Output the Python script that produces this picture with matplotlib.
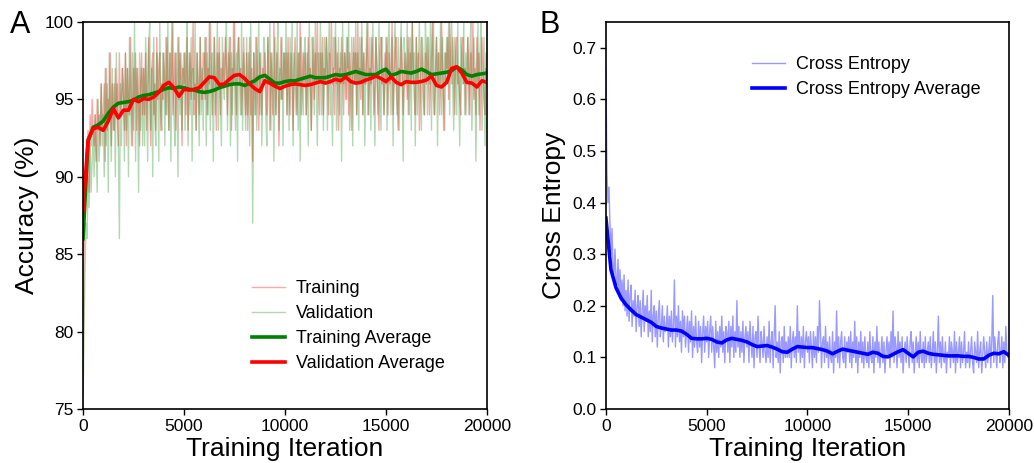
import matplotlib
matplotlib.use("Agg")
import matplotlib.pyplot as plt

plt.rcParams['font.family'] = ['Liberation Sans', 'DejaVu Sans']

# ---- data -------------------------------------------------------------
# noisy traces, one value every 50 iterations (0 .. 20000)
noisy_iters = list(range(0, 20001, 50))

train_acc = [
    76, 85, 88, 90, 91, 93, 89, 94, 92, 95, 93, 92, 94, 91, 95, 93, 94, 92, 96, 93,
    94, 96, 91, 97, 93, 95, 94, 98, 92, 96, 94, 93, 97, 94, 96, 92, 98, 94, 95, 97,
    95, 93, 98, 92, 97, 95, 94, 99, 95, 92, 97, 95, 98, 93, 97, 95, 92, 96, 98, 94,
    97, 94, 98, 93, 96, 99, 95, 92, 97, 98, 94, 96, 93, 99, 95, 97, 98, 93, 96, 95,
    98, 96, 94, 99, 96, 93, 98, 96, 100, 94, 96, 98, 93, 96, 99, 95, 98, 96, 92, 97,
    96, 98, 94, 99, 93, 96, 98, 95, 97, 100, 94, 96, 93, 98, 96, 94, 99, 96, 95, 98,
    98, 95, 99, 94, 97, 96, 100, 97, 94, 96, 99, 96, 93, 98, 96, 99, 94, 97, 96, 98,
    96, 99, 97, 94, 98, 96, 99, 93, 97, 96, 100, 96, 94, 98, 99, 96, 97, 94, 96, 99,
    96, 94, 98, 93, 96, 99, 94, 97, 91, 98, 96, 94, 99, 96, 93, 98, 96, 94, 97, 96,
    98, 96, 94, 99, 96, 93, 98, 96, 94, 100, 96, 94, 98, 96, 92, 97, 99, 95, 96, 98,
    96, 98, 94, 99, 96, 94, 98, 96, 93, 97, 99, 96, 94, 98, 96, 100, 94, 96, 98, 96,
    98, 94, 96, 99, 96, 97, 93, 96, 99, 95, 98, 96, 100, 96, 94, 98, 96, 99, 94, 97,
    96, 99, 97, 94, 98, 96, 100, 96, 97, 94, 99, 96, 98, 93, 97, 96, 99, 97, 94, 98,
    97, 95, 99, 94, 98, 96, 93, 97, 99, 96, 98, 94, 100, 96, 97, 95, 99, 94, 98, 96,
    96, 98, 100, 94, 97, 96, 99, 97, 94, 96, 99, 97, 95, 93, 98, 99, 96, 97, 94, 98,
    96, 99, 94, 98, 96, 97, 100, 94, 96, 98, 99, 95, 93, 97, 96, 99, 97, 94, 96, 98,
    97, 95, 99, 94, 98, 96, 100, 97, 95, 94, 99, 96, 98, 93, 96, 99, 97, 95, 94, 98,
    96, 99, 97, 94, 96, 98, 100, 95, 94, 97, 99, 96, 98, 94, 96, 100, 97, 95, 93, 98,
    97, 99, 95, 100, 97, 96, 99, 97, 94, 98, 99, 96, 97, 95, 94, 98, 99, 96, 97, 94,
    96, 99, 97, 94, 98, 96, 100, 95, 97, 94, 99, 96, 98, 93, 96, 99, 97, 95, 94, 98,
    96,
]

val_acc = [
    75, 80, 84, 87, 86, 90, 88, 92, 89, 91, 93, 90, 94, 92, 89, 95, 91, 93, 96, 92,
    94, 90, 97, 92, 96, 89, 98, 94, 91, 97, 93, 96, 90, 98, 94, 92, 86, 96, 92, 97,
    96, 91, 98, 93, 97, 90, 99, 95, 92, 98, 93, 100, 91, 97, 95, 89, 98, 93, 97, 92,
    97, 92, 99, 95, 91, 98, 100, 93, 97, 90, 99, 94, 92, 98, 96, 91, 100, 94, 93, 98,
    97, 92, 99, 94, 100, 93, 98, 91, 97, 100, 94, 92, 98, 96, 90, 99, 94, 98, 93, 97,
    98, 93, 97, 100, 92, 98, 94, 99, 91, 97, 95, 100, 93, 98, 96, 92, 99, 94, 97, 93,
    97, 99, 92, 98, 94, 100, 93, 97, 98, 91, 99, 94, 96, 100, 93, 98, 95, 92, 99, 96,
    95, 98, 100, 93, 97, 99, 92, 98, 94, 100, 96, 93, 98, 91, 99, 96, 94, 100, 93, 98,
    96, 93, 99, 94, 98, 92, 100, 96, 87, 98, 94, 99, 93, 97, 100, 94, 98, 92, 96, 99,
    98, 94, 92, 99, 96, 100, 93, 98, 96, 91, 99, 94, 98, 100, 93, 97, 95, 99, 92, 98,
    96, 100, 94, 98, 93, 99, 96, 100, 92, 98, 96, 94, 100, 93, 98, 91, 99, 96, 94, 98,
    99, 94, 98, 92, 100, 96, 93, 99, 97, 94, 100, 96, 92, 98, 96, 100, 94, 98, 93, 99,
    96, 99, 93, 98, 100, 94, 96, 92, 99, 97, 100, 93, 96, 99, 94, 98, 91, 100, 96, 98,
    95, 99, 97, 100, 93, 96, 99, 92, 98, 96, 100, 94, 98, 93, 99, 96, 100, 94, 98, 92,
    97, 100, 94, 96, 99, 93, 98, 100, 96, 92, 99, 97, 94, 100, 96, 93, 99, 97, 94, 96,
    99, 93, 98, 100, 96, 94, 99, 92, 98, 100, 96, 94, 99, 93, 98, 100, 96, 91, 99, 97,
    96, 100, 94, 98, 99, 93, 100, 96, 98, 92, 99, 94, 97, 100, 96, 93, 99, 97, 94, 100,
    98, 94, 99, 96, 100, 93, 98, 100, 94, 96, 99, 92, 98, 96, 100, 94, 99, 93, 98, 96,
    99, 96, 100, 94, 98, 100, 96, 93, 99, 97, 94, 100, 96, 92, 99, 97, 96, 100, 94, 98,
    96, 99, 94, 98, 100, 93, 96, 99, 97, 91, 96, 100, 94, 98, 100, 93, 96, 99, 92, 97,
    96,
]

cross_entropy = [
    .66, .46, .40, .43, .36, .30, .35, .28, .26, .31, .25, .24, .29, .22, .27, .21, .25, .20, .26, .19,
    .23, .18, .25, .17, .22, .24, .16, .21, .18, .23, .15, .20, .22, .16, .21, .14, .19, .23, .15, .20,
    .17, .22, .14, .19, .15, .23, .13, .18, .20, .14, .19, .12, .18, .21, .14, .16, .20, .13, .18, .15,
    .16, .20, .12, .18, .14, .19, .13, .16, .25, .12, .18, .14, .20, .13, .17, .11, .19, .14, .18, .12,
    .15, .18, .11, .17, .13, .19, .10, .16, .12, .18, .13, .11, .17, .12, .16, .09, .15, .18, .11, .16,
    .13, .17, .10, .15, .18, .11, .16, .12, .08, .17, .11, .15, .10, .16, .12, .18, .11, .15, .09, .16,
    .15, .11, .17, .09, .16, .12, .18, .10, .15, .11, .21, .12, .16, .10, .15, .11, .17, .09, .14, .16,
    .12, .15, .09, .17, .13, .10, .16, .08, .14, .15, .10, .18, .12, .09, .15, .13, .10, .16, .11, .09,
    .14, .10, .17, .09, .13, .15, .08, .14, .20, .10, .13, .09, .15, .07, .13, .14, .09, .16, .10, .13,
    .10, .14, .10, .16, .08, .13, .15, .10, .14, .09, .20, .11, .15, .09, .14, .10, .16, .08, .13, .15,
    .11, .14, .09, .15, .12, .08, .15, .10, .14, .09, .16, .11, .21, .15, .08, .13, .14, .09, .16, .10,
    .13, .08, .14, .10, .09, .15, .07, .13, .10, .19, .09, .14, .08, .13, .15, .10, .09, .14, .08, .13,
    .11, .14, .09, .15, .08, .13, .10, .17, .09, .14, .07, .13, .10, .15, .09, .13, .08, .14, .10, .09,
    .13, .08, .15, .10, .09, .14, .07, .13, .10, .16, .09, .13, .08, .11, .14, .09, .13, .07, .11, .14,
    .10, .13, .08, .15, .10, .19, .09, .14, .12, .08, .15, .10, .13, .09, .14, .07, .11, .13, .09, .14,
    .11, .08, .13, .15, .09, .13, .07, .11, .14, .09, .13, .08, .15, .10, .09, .13, .08, .14, .09, .11,
    .13, .09, .14, .08, .11, .15, .09, .13, .07, .11, .18, .09, .13, .08, .14, .10, .09, .13, .07, .11,
    .10, .14, .08, .13, .11, .09, .15, .07, .13, .09, .11, .14, .08, .13, .09, .11, .15, .08, .11, .09,
    .13, .08, .11, .14, .09, .07, .13, .11, .09, .15, .08, .11, .13, .07, .10, .14, .11, .08, .13, .09,
    .11, .14, .08, .13, .22, .09, .14, .11, .08, .13, .15, .09, .11, .14, .08, .13, .09, .16, .11, .10,
    .11,
]

# running averages, one value every 250 iterations
avg_iters = list(range(0, 20001, 250))

train_avg = [
    86.0, 92.3, 93.2, 93.35, 93.6, 94.1, 94.5, 94.75, 94.8, 94.85,
    94.95, 95.15, 95.25, 95.3, 95.4, 95.5, 95.65, 95.75, 95.7, 95.8,
    95.75, 95.65, 95.6, 95.5, 95.45, 95.5, 95.6, 95.75, 95.85, 95.95,
    96.0, 96.0, 95.9, 96.05, 96.2, 96.45, 96.55, 96.3, 96.05, 96.05,
    96.15, 96.2, 96.2, 96.3, 96.4, 96.5, 96.4, 96.4, 96.4, 96.5,
    96.6, 96.55, 96.6, 96.7, 96.8, 96.7, 96.6, 96.6, 96.6, 96.8,
    96.95, 96.55, 96.65, 96.8, 96.75, 96.7, 96.8, 96.95, 96.8, 96.6,
    96.65, 96.7, 96.75, 96.85, 97.1, 96.9, 96.6, 96.5, 96.6, 96.65,
    96.7,
]

val_avg = [
    87.8, 92.4, 93.1, 93.2, 93.0, 93.6, 94.4, 93.8, 94.3, 94.3,
    95.0, 94.85, 95.05, 95.0, 95.15, 95.45, 95.9, 96.1, 95.75, 95.2,
    95.65, 95.6, 95.65, 95.75, 96.1, 96.45, 96.4, 95.95, 96.0, 96.3,
    96.55, 96.6, 96.35, 96.0, 95.7, 95.5, 96.2, 96.05, 95.85, 95.7,
    95.85, 95.95, 96.0, 95.95, 95.9, 95.95, 96.05, 96.15, 96.05, 96.15,
    96.3, 96.2, 96.45, 96.15, 96.05, 96.1, 96.25, 96.35, 96.5, 96.35,
    96.15, 96.45, 96.1, 95.95, 96.15, 96.1, 96.1, 96.15, 96.25, 96.5,
    95.9, 95.8, 96.1, 97.0, 97.1, 96.7, 96.1, 96.05, 95.8, 96.2,
    96.1,
]

ce_avg = [
    0.370, 0.270, 0.235, 0.215, 0.202, 0.192, 0.183, 0.178, 0.173, 0.168,
    0.160, 0.157, 0.155, 0.153, 0.153, 0.151, 0.145, 0.137, 0.136, 0.136,
    0.137, 0.135, 0.130, 0.128, 0.134, 0.137, 0.135, 0.133, 0.130, 0.125,
    0.121, 0.122, 0.123, 0.120, 0.116, 0.111, 0.110, 0.116, 0.121, 0.120,
    0.119, 0.119, 0.117, 0.115, 0.112, 0.107, 0.112, 0.116, 0.114, 0.112,
    0.110, 0.108, 0.106, 0.110, 0.108, 0.102, 0.101, 0.106, 0.111, 0.115,
    0.108, 0.101, 0.110, 0.112, 0.108, 0.106, 0.105, 0.104, 0.103, 0.103,
    0.103, 0.102, 0.102, 0.100, 0.097, 0.097, 0.104, 0.108, 0.107, 0.111,
    0.104,
]

# ---- plot -------------------------------------------------------------
fig = plt.figure(figsize=(10.34, 4.63), dpi=100)
axA = fig.add_axes([0.0803, 0.1166, 0.3907, 0.836])
axB = fig.add_axes([0.586, 0.1166, 0.3897, 0.836])

axA.plot(noisy_iters, train_acc, color=(1, 0, 0, 0.35), lw=1.0, label='Training')
axA.plot(noisy_iters, val_acc, color=(0, 0.5, 0, 0.3), lw=1.0, label='Validation')
axA.plot(avg_iters, train_avg, color='green', lw=2.6, label='Training Average')
axA.plot(avg_iters, val_avg, color='red', lw=2.6, label='Validation Average')

axB.plot(noisy_iters, cross_entropy, color=(0, 0, 1, 0.4), lw=1.0, label='Cross Entropy')
axB.plot(avg_iters, ce_avg, color='blue', lw=2.6, label='Cross Entropy Average')

axA.set_xlim(0, 20000)
axA.set_ylim(75, 100)
axA.set_yticks([75, 80, 85, 90, 95, 100])
axA.set_ylabel('Accuracy (%)', fontsize=19)

axB.set_xlim(0, 20000)
axB.set_ylim(0, 0.75)
axB.set_yticks([0.0, 0.1, 0.2, 0.3, 0.4, 0.5, 0.6, 0.7])
axB.set_yticklabels(['0.0', '0.1', '0.2', '0.3', '0.4', '0.5', '0.6', '0.7'])
axB.set_ylabel('Cross Entropy', fontsize=19)

for ax in (axA, axB):
    ax.set_xticks([0, 5000, 10000, 15000, 20000])
    ax.set_xlabel('Training Iteration', fontsize=19, labelpad=2)
    ax.tick_params(direction='out', length=4, width=1, labelsize=12.5, pad=3)
    for s in ax.spines.values():
        s.set_linewidth(1.2)

axA.legend(loc='upper left', bbox_to_anchor=(0.395, 0.357), frameon=False, fontsize=13,
           handlelength=1.85, handletextpad=0.6, labelspacing=0.45, borderpad=0)
axB.legend(loc='upper left', bbox_to_anchor=(0.34, 0.935), frameon=False, fontsize=13,
           handlelength=1.85, handletextpad=0.6, labelspacing=0.45, borderpad=0)

fig.text(10 / 1034, 1 - 33 / 463, 'A', fontsize=22, va='baseline')
fig.text(540 / 1034, 1 - 33 / 463, 'B', fontsize=22, va='baseline')

plt.savefig('out.png', dpi=100)
